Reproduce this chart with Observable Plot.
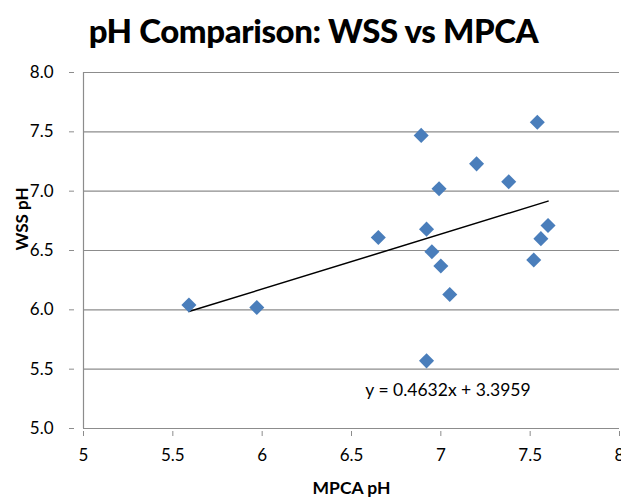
<!DOCTYPE html>
<html>
<head>
<meta charset="utf-8">
<script src="https://cdn.jsdelivr.net/npm/d3@7"></script>
<script src="https://cdn.jsdelivr.net/npm/@observablehq/plot@0.6"></script>
<style>
  html, body { margin: 0; padding: 0; background: #fff; }
  body { width: 621px; height: 502px; overflow: hidden; font-family: Lato, "Open Sans", sans-serif; }
  #title { height: 60px; text-align: center; font-weight: 900; font-size: 33px; line-height: 60px; color: #000; padding-left: 6px; letter-spacing: -0.4px; }
  svg { overflow: visible; }
</style>
</head>
<body>
<div id="title">pH Comparison: WSS vs MPCA</div>
<div id="chart"></div>
<script>
const mpcaPH = [5.59, 5.97, 6.65, 6.89, 6.99, 6.92, 6.95, 7.00, 7.05, 6.92, 7.20, 7.38, 7.54, 7.52, 7.56, 7.60];
const wssPH  = [6.04, 6.02, 6.61, 7.47, 7.02, 6.68, 6.49, 6.37, 6.13, 5.57, 7.23, 7.08, 7.58, 6.42, 6.60, 6.71];
const slope = 0.4632;
const intercept = 3.3959;
const equationLabel = "y = 0.4632x + 3.3959";
const xTicks = [5, 5.5, 6, 6.5, 7, 7.5, 8];
const yTicks = [5.0, 5.5, 6.0, 6.5, 7.0, 7.5, 8.0];

const points = mpcaPH.map((x, i) => ({x, y: wssPH[i]}));
const xMin = d3.min(mpcaPH), xMax = d3.max(mpcaPH);
const trend = [xMin, xMax].map(x => ({x, y: slope * x + intercept}));

const chart = Plot.plot({
  width: 621,
  height: 442,
  marginTop: 12,
  marginLeft: 83,
  marginRight: 2,
  marginBottom: 74,
  style: {fontFamily: "Lato, 'Open Sans', sans-serif", fontSize: "17px", color: "#000", background: "#fff"},
  x: {domain: [5, 8], ticks: xTicks, tickFormat: d => String(d), label: null},
  y: {domain: [5, 8], ticks: yTicks, tickFormat: d => d.toFixed(1), label: null},
  marks: [
    Plot.ruleY(yTicks.slice(1), {stroke: "#8c8c8c", strokeWidth: 1.2}),
    Plot.ruleX([5], {stroke: "#8c8c8c", strokeWidth: 1.2}),
    Plot.ruleY([5], {stroke: "#8c8c8c", strokeWidth: 1.2}),
    Plot.axisX({ticks: xTicks, tickFormat: d => String(d), tickSize: 5, stroke: "#8c8c8c", strokeOpacity: 1, tickPadding: 12, dy: 3, fontSize: 17, fill: "#000", label: null}),
    Plot.axisY({ticks: yTicks, tickFormat: d => d.toFixed(1), tickSize: 5, stroke: "#8c8c8c", strokeOpacity: 1, tickPadding: 16, dx: -9, fontSize: 17, fill: "#000", label: null}),
    Plot.line(trend, {x: "x", y: "y", stroke: "#000", strokeWidth: 1.5}),
    Plot.dot(points, {x: "x", y: "y", symbol: "square", rotate: 45, r: 6.0, fill: "#4a7ebb", stroke: "none"}),
    Plot.text([equationLabel], {x: 7.04, y: 5.32, text: d => d, fontSize: 17.5, fill: "#000"}),
    Plot.text(["MPCA pH"], {frameAnchor: "bottom", dy: 65, text: d => d, fontWeight: "bold", fontSize: 17.5, fill: "#000"}),
    Plot.text(["WSS pH"], {frameAnchor: "left", dx: -61, rotate: -90, text: d => d, fontWeight: "bold", fontSize: 17, fill: "#000"})
  ]
});
document.getElementById("chart").appendChild(chart);
</script>
</body>
</html>
